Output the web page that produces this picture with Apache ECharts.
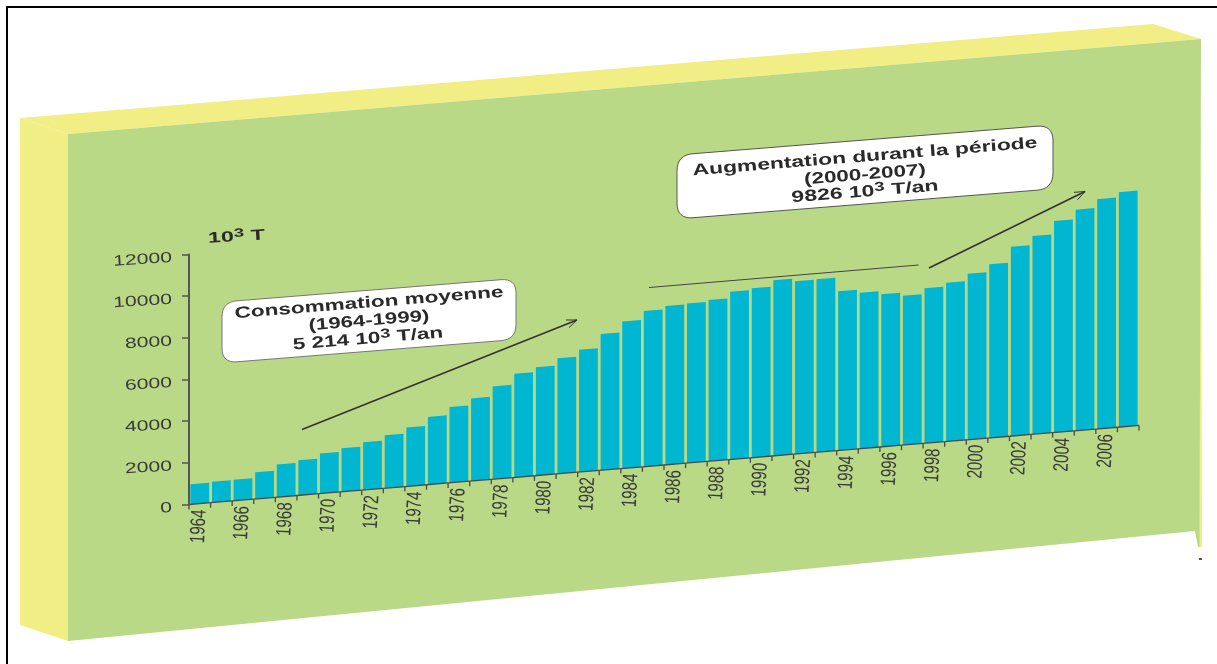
<!DOCTYPE html>
<html>
<head>
<meta charset="utf-8">
<title>Consommation 1964-2007</title>
<style>
html,body{margin:0;padding:0;background:#fff;}
#chart{width:1217px;height:664px;}
</style>
<script src="https://cdn.jsdelivr.net/npm/echarts@6/dist/echarts.min.js"></script>
</head>
<body>
<div id="chart"></div>
<script>
// Annual consumption, thousands of tonnes
const categories = ['1964','1965','1966','1967','1968','1969','1970','1971','1972','1973','1974',
  '1975','1976','1977','1978','1979','1980','1981','1982','1983','1984','1985','1986','1987','1988',
  '1989','1990','1991','1992','1993','1994','1995','1996','1997','1998','1999','2000','2001','2002',
  '2003','2004','2005','2006','2007'];
const consumption = [966,1000,1010,1284,1567,1688,1923,2091,2293,2543,2827,
  3250,3635,3966,4457,4976,5197,5543,5870,6538,7053,7471,7625,7659,7740,
  8053,8130,8428,8293,8303,7639,7486,7322,7168,7437,7620,7966,8332,9091,
  9519,10154,10611,11029,11279];
const yTicks = [0,2000,4000,6000,8000,10000,12000];
const axisTitle = {base:'10', exp:'3', unit:' T'};
const noteAverage = ['Consommation moyenne','(1964-1999)','5 214 '];
const noteIncrease = ['Augmentation durant la période','(2000-2007)','9826 '];

const SHEAR = 0.0832;          // the baseline climbs to the right on the tilted panel
const FONT = '"Liberation Sans", Arial, sans-serif';
const GREEN = '#B9D987', YELLOW = '#F1EE85', CYAN = '#00B6D0', INK = '#3a3a3a', BOLD_INK = '#2a2a2a';

function baseOffset(x, gridLeft){ return -SHEAR * (x - gridLeft); }

function renderBar(params, api){
  const idx = api.value(0), val = api.value(1);
  const c0 = api.coord([idx, 0]), c1 = api.coord([idx, val]);
  const w = api.size([1, 0])[0] * 0.87;
  const gl = params.coordSys.x;
  const xl = c0[0] - w / 2, xr = c0[0] + w / 2;
  return {
    type: 'polygon',
    shape: {points: [
      [xl, c0[1] + baseOffset(xl, gl)],
      [xr, c0[1] + baseOffset(xr, gl)],
      [xr, c1[1] + baseOffset(xr, gl)],
      [xl, c1[1] + baseOffset(xl, gl)]
    ]},
    style: {fill: CYAN}
  };
}

function renderBaseline(params, api){
  const idx = api.value(0);
  const c = api.coord([idx, 0]);
  const band = api.size([1, 0])[0];
  const gl = params.coordSys.x;
  const xl = c[0] - band / 2, xr = c[0] + band / 2;
  const yl = c[1] + baseOffset(xl, gl), yr = c[1] + baseOffset(xr, gl);
  const stroke = {stroke: '#4a4a4a', lineWidth: 1.3};
  const children = [
    {type: 'line', shape: {x1: xl, y1: yl, x2: xr, y2: yr}, style: stroke},
    {type: 'line', shape: {x1: xl, y1: yl, x2: xl, y2: yl + 5}, style: stroke}
  ];
  if (idx === categories.length - 1) {
    children.push({type: 'line', shape: {x1: xr, y1: yr, x2: xr, y2: yr + 5}, style: stroke});
  }
  if (idx % 2 === 0) {
    children.push({
      type: 'text',
      x: c[0], y: c[1] + baseOffset(c[0], gl) + 6,
      rotation: Math.PI / 2 - 0.05,
      scaleX: 0.72, scaleY: 1,
      style: {text: categories[idx], fontFamily: FONT, fontSize: 21, fill: INK,
              textAlign: 'right', textVerticalAlign: 'middle'}
    });
  }
  return {type: 'group', children};
}

function renderYLabel(params, api){
  const v = api.value(1);
  const y = api.coord([0, v])[1];
  return {
    type: 'text',
    x: params.coordSys.x - 17, y: y + 3.5,
    rotation: 0.06, scaleX: 1.41, scaleY: 1,
    style: {text: String(v), fontFamily: FONT, fontSize: 15, fill: INK,
            textAlign: 'right', textVerticalAlign: 'middle'}
  };
}

// Rounded box whose top and bottom follow the panel tilt while its sides stay vertical
function noteOutline(x, y, w, h, r, k){
  const P = (u, v) => [x + u, y + v - k * u];
  const corners = [
    [[w-r,0],[w,0],[w,r]], [[w,h-r],[w,h],[w-r,h]],
    [[r,h],[0,h],[0,h-r]], [[0,r],[0,0],[r,0]]
  ];
  const pts = [];
  corners.forEach(([a, b, c]) => {
    for (let i = 0; i <= 8; i++) {
      const t = i / 8, m = 1 - t;
      pts.push(P(m*m*a[0] + 2*m*t*b[0] + t*t*c[0], m*m*a[1] + 2*m*t*b[1] + t*t*c[1]));
    }
  });
  return pts;
}

function noteText(text, cx, cy, sx, rich){
  const el = {type: 'text', x: cx, y: cy, rotation: 0.08, scaleX: sx, scaleY: 1, z: 5,
    style: {text, fontFamily: FONT, fontSize: 16, fontWeight: 'bold', fill: BOLD_INK,
            textAlign: 'center', textVerticalAlign: 'middle'}};
  if (rich) {
    el.style.rich = {
      a: {fontFamily: FONT, fontSize: 16, fontWeight: 'bold', fill: BOLD_INK, lineHeight: 20},
      s: {fontFamily: FONT, fontSize: 13, fontWeight: 'bold', fill: BOLD_INK, verticalAlign: 'top', lineHeight: 20}
    };
  }
  return el;
}

function arrow(x1, y1, x2, y2, width){
  const a = Math.atan2(y2 - y1, x2 - x1), L = 11, s = 0.38;
  const style = {stroke: '#333', lineWidth: width, fill: null};
  return [
    {type: 'line', z: 4, shape: {x1, y1, x2, y2}, style},
    {type: 'polyline', z: 4, shape: {points: [
      [x2 - L * Math.cos(a - s), y2 - L * Math.sin(a - s)], [x2, y2],
      [x2 - L * Math.cos(a + s), y2 - L * Math.sin(a + s)]]}, style: {stroke: '#333', lineWidth: 1, fill: null}}
  ];
}

const backdrop = [
  {type: 'rect', z: -10, shape: {x: 6, y: 6, width: 1211, height: 2}, style: {fill: '#000'}},
  {type: 'rect', z: -10, shape: {x: 6, y: 6, width: 2, height: 658}, style: {fill: '#000'}},
  {type: 'polygon', z: -10, shape: {points: [[20,118],[68,134],[68,641],[20,625]]}, style: {fill: YELLOW}},
  {type: 'polygon', z: -10, shape: {points: [[20,118],[1153,24],[1201,39],[68,134]]}, style: {fill: YELLOW}},
  {type: 'polygon', z: -10, shape: {points: [[1201,39],[1202,547],[1199,547]]}, style: {fill: YELLOW}},
  {type: 'polygon', z: -9, shape: {points: [[68,134],[1201,39],[1199.5,547],[1198,547],[1195,531],[68,641]]},
   style: {fill: GREEN}},
  {type: 'rect', z: -9, shape: {x: 1199, y: 558, width: 3, height: 2}, style: {fill: '#555'}}
];

const notes = [
  {type: 'polygon', z: 4, shape: {points: noteOutline(222, 302, 294, 61, 15, 0.08)},
   style: {fill: '#fff', stroke: '#777', lineWidth: 1}},
  {type: 'polygon', z: 4, shape: {points: noteOutline(677, 155, 376, 64, 16, 0.08)},
   style: {fill: '#fff', stroke: '#555', lineWidth: 1}},
  noteText(noteAverage[0], 369, 303, 1.41),
  noteText(noteAverage[1], 369, 321, 1.39),
  noteText('{a|' + noteAverage[2] + '10}{s|3}{a| T/an}', 368, 339, 1.41, true),
  noteText(noteIncrease[0], 865, 157, 1.43),
  noteText(noteIncrease[1], 865, 175, 1.4),
  noteText('{a|' + noteIncrease[2] + '10}{s|3}{a| T/an}', 865, 192, 1.44, true),
  {type: 'text', x: 236.5, y: 237, rotation: 0.06, scaleX: 1.55, scaleY: 1, z: 5,
   style: {text: '{a|' + axisTitle.base + '}{s|' + axisTitle.exp + '}{a|' + axisTitle.unit + '}',
           fontFamily: FONT, fontSize: 15, fontWeight: 'bold', fill: BOLD_INK,
           textAlign: 'center', textVerticalAlign: 'middle',
           rich: {a: {fontFamily: FONT, fontSize: 15, fontWeight: 'bold', fill: BOLD_INK, lineHeight: 19},
                  s: {fontFamily: FONT, fontSize: 12, fontWeight: 'bold', fill: BOLD_INK, verticalAlign: 'top', lineHeight: 19}}}},
  {type: 'line', z: 4, shape: {x1: 649, y1: 287.5, x2: 918.5, y2: 265}, style: {stroke: '#444', lineWidth: 1}},
  ...arrow(302, 429.5, 577, 320, 1.6),
  ...arrow(929, 268, 1085, 191.5, 1.6)
];

const chart = echarts.init(document.getElementById('chart'), null, {renderer: 'canvas'});
chart.setOption({
  animation: false,
  backgroundColor: '#fff',
  grid: {left: 189, right: 78, top: 254.5, bottom: 159.5, containLabel: false},
  xAxis: {type: 'category', data: categories, show: false},
  yAxis: {
    type: 'value', min: 0, max: 12000, interval: 2000, z: 3,
    axisLine: {show: true, lineStyle: {color: '#555', width: 2}},
    axisTick: {show: true, length: 7, lineStyle: {color: '#555', width: 1.5}},
    axisLabel: {show: false},
    splitLine: {show: false}
  },
  graphic: {elements: backdrop.concat(notes)},
  series: [
    {name: 'Consommation', type: 'custom', renderItem: renderBar, clip: false, z: 2,
     encode: {x: 0, y: 1},
     data: consumption.map((v, i) => [i, v])},
    {name: 'Années', type: 'custom', renderItem: renderBaseline, clip: false, z: 3,
     encode: {x: 0},
     data: categories.map((c, i) => [i])},
    {name: 'Graduations', type: 'custom', renderItem: renderYLabel, clip: false, z: 3,
     encode: {y: 1},
     data: yTicks.map(v => [0, v])}
  ]
});
</script>
</body>
</html>
